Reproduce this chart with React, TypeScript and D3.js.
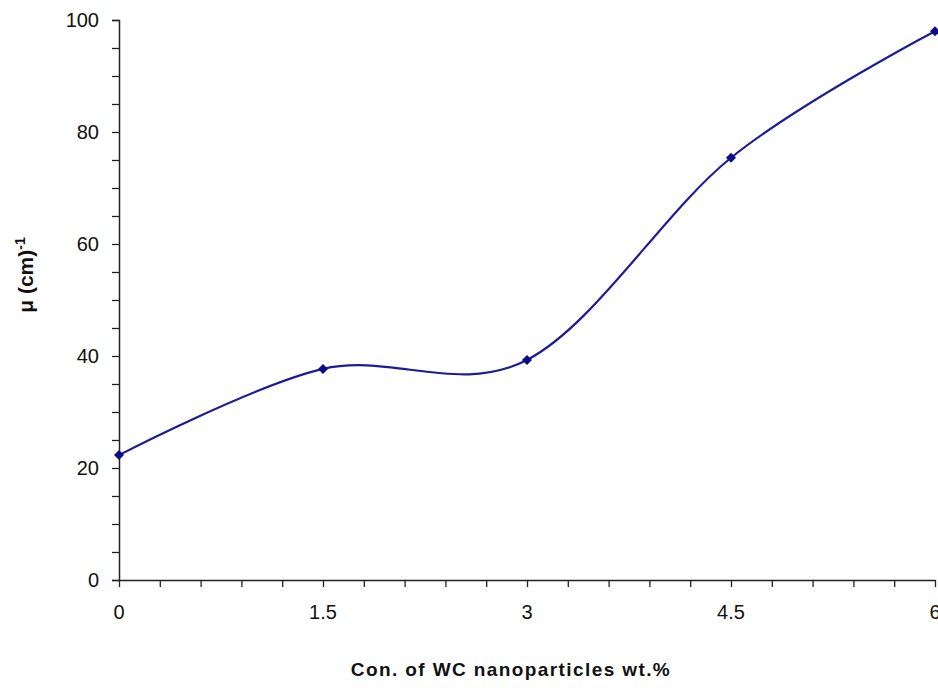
import {useEffect, useRef} from 'react';
import * as d3 from 'd3';

// values
const concentrations = [0, 1.5, 3, 4.5, 6];
const muValues = [22.3, 37.7, 39.3, 75.4, 98.0];
const xTickLabels = [0, 1.5, 3, 4.5, 6];
const yTickLabels = [0, 20, 40, 60, 80, 100];

const W = 938;
const H = 688;

const App = () => {
  const svgRef = useRef<SVGSVGElement>(null);

  useEffect(() => {
    const svg = d3.select(svgRef.current);
    svg.selectAll('*').remove();

    const margin = {top: 20, right: 3, bottom: 108, left: 119};
    const x = d3.scaleLinear().domain([0, 6]).range([margin.left, W - margin.right]);
    const y = d3.scaleLinear().domain([0, 100]).range([H - margin.bottom, margin.top]);

    const axisColor = '#222';
    const font = 'Liberation Sans, Arial, sans-serif';

    // y axis: tick every 5, labels every 20
    const yAxis = svg.append('g').attr('transform', `translate(${margin.left},0)`)
      .call(d3.axisLeft(y).tickValues(d3.range(0, 101, 5)).tickSize(7).tickFormat(() => ''));
    yAxis.select('.domain').attr('stroke', axisColor).attr('stroke-width', 1.5);
    yAxis.selectAll('.tick line').attr('stroke', axisColor).attr('stroke-width', 1.3);

    svg.append('g').selectAll('text').data(yTickLabels).enter().append('text')
      .attr('x', 99).attr('y', d => y(d)).attr('dy', '0.35em')
      .attr('text-anchor', 'end')
      .style('font-family', font).style('font-size', '20px').style('fill', '#111')
      .text(d => d);

    // x axis: tick every 0.3
    const xAxis = svg.append('g').attr('transform', `translate(0,${y(0)})`)
      .call(d3.axisBottom(x).tickValues(d3.range(0, 31, 1.5).map(v => v / 5)).tickSize(7).tickSizeOuter(0).tickFormat(() => ''));
    xAxis.select('.domain').attr('stroke', axisColor).attr('stroke-width', 1.5);
    xAxis.selectAll('.tick line').attr('stroke', axisColor).attr('stroke-width', 1.3);

    svg.append('g').selectAll('text').data(xTickLabels).enter().append('text')
      .attr('x', d => x(d)).attr('y', 619)
      .attr('text-anchor', 'middle')
      .style('font-family', font).style('font-size', '20px').style('fill', '#111')
      .text(d => d);

    const pts = concentrations.map((c, i) => [c, muValues[i]] as [number, number]);

    const line = d3.line<[number, number]>()
      .x(d => x(d[0]))
      .y(d => y(d[1]))
      .curve(d3.curveCardinal.tension(0));

    svg.append('path')
      .datum(pts)
      .attr('fill', 'none')
      .attr('stroke', '#1c1c96')
      .attr('stroke-width', 2.2)
      .attr('d', line);

    const marker = d3.symbol().type(d3.symbolSquare).size(50);
    svg.selectAll('.point').data(pts).enter().append('path')
      .attr('class', 'point')
      .attr('transform', d => `translate(${x(d[0])},${y(d[1])}) rotate(45)`)
      .attr('d', marker)
      .attr('fill', '#0c0c8a');

    // axis titles
    svg.append('text')
      .attr('transform', `translate(33, 275) rotate(-90)`)
      .attr('text-anchor', 'middle')
      .style('font-family', font).style('font-size', '21px').style('font-weight', 'bold')
      .style('fill', '#111')
      .text('μ (cm)')
      .append('tspan').attr('dy', '-0.55em').style('font-size', '14px').text('-1');

    svg.append('text')
      .attr('x', 511).attr('y', 676)
      .attr('text-anchor', 'middle')
      .style('font-family', font).style('font-size', '19px').style('font-weight', 'bold')
      .style('letter-spacing', '1.4px')
      .style('fill', '#111')
      .text('Con. of WC nanoparticles wt.%');
  }, []);

  return (
    <div style={{position: 'absolute', left: 0, top: 0}}>
      <svg ref={svgRef} width={W} height={H} style={{display: 'block', background: '#fff'}} />
    </div>
  );
};

export default App;
